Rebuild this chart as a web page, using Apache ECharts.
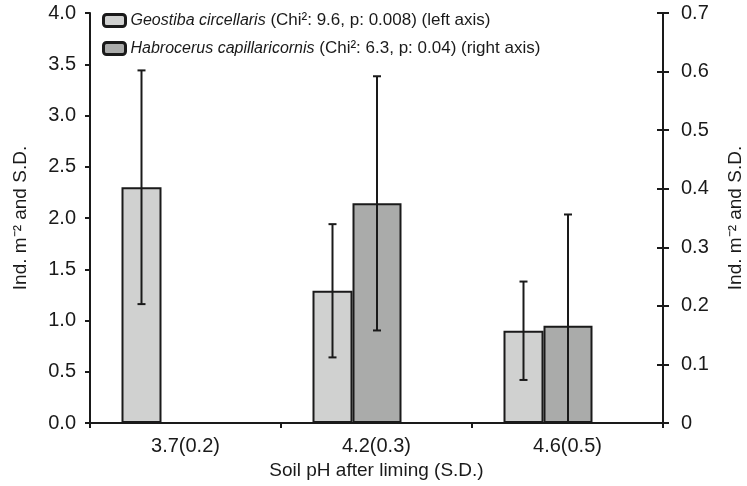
<!DOCTYPE html>
<html>
<head>
<meta charset="utf-8">
<script src="https://cdn.jsdelivr.net/npm/echarts@6/dist/echarts.min.js"></script>
<style>
  html, body { margin: 0; padding: 0; background: #fff; }
  #chart { width: 747px; height: 486px; }
</style>
</head>
<body>
<div id="chart"></div>
<script>
// values
const categories = ['3.7(0.2)', '4.2(0.3)', '4.6(0.5)'];
const seriesNames = ['Geostiba circellaris', 'Habrocerus capillaricornis'];
const legendNotes = ['(Chi²: 9.6, p: 0.008) (left axis)', '(Chi²: 6.3, p: 0.04) (right axis)'];
const geostibaMean = [2.30, 1.29, 0.90];
const geostibaSD = [1.14, 0.65, 0.48];
const habroMean = [null, 0.375, 0.166];
const habroSD = [null, 0.217, 0.19];

const ink = '#1a1a1a';
const font = 'Liberation Sans, Arial, sans-serif';
// bar widths (px): the two species plus an empty slot, as in the original layout
const barW = [40, 49, 39];
const groupW = barW[0] + barW[1] + barW[2];
const offGeo = -groupW / 2 + barW[0] / 2;
const offHab = -groupW / 2 + barW[0] + barW[1] / 2;

function errData(mean, sd) {
  const out = [];
  mean.forEach((m, i) => {
    if (m == null) return;
    out.push([i, Math.max(0, m - sd[i]), m + sd[i]]);
  });
  return out;
}

function errRender(offset) {
  return function (params, api) {
    const lo = api.coord([api.value(0), api.value(1)]);
    const hi = api.coord([api.value(0), api.value(2)]);
    const x = lo[0] + offset;
    const cap = 4;
    const style = { stroke: ink, lineWidth: 2 };
    return {
      type: 'group',
      children: [
        { type: 'line', shape: { x1: x, y1: lo[1], x2: x, y2: hi[1] }, style },
        { type: 'line', shape: { x1: x - cap, y1: hi[1], x2: x + cap, y2: hi[1] }, style },
        { type: 'line', shape: { x1: x - cap, y1: lo[1], x2: x + cap, y2: lo[1] }, style }
      ]
    };
  };
}

const chart = echarts.init(document.getElementById('chart'));

const option = {
  animation: false,
  textStyle: { fontFamily: font, color: ink },
  grid: { left: 90, right: 84, top: 13, bottom: 63, outerBoundsMode: 'none', containLabel: false },
  legend: {
    data: seriesNames,
    orient: 'vertical',
    left: 97,
    top: 7,
    itemWidth: 22,
    itemHeight: 12,
    itemGap: 11,
    itemStyle: { borderColor: ink, borderWidth: 3 },
    formatter: name => '{i|' + name + '} ' + legendNotes[seriesNames.indexOf(name)],
    textStyle: {
      fontFamily: font, fontSize: 17, color: ink,
      rich: { i: { fontStyle: 'italic', fontSize: 16, fontFamily: font, color: ink } }
    }
  },
  xAxis: {
    type: 'category',
    data: categories,
    name: 'Soil pH after liming (S.D.)',
    nameLocation: 'middle',
    nameGap: 36,
    nameTextStyle: { fontSize: 19, color: ink },
    axisLine: { lineStyle: { color: ink, width: 2 } },
    axisTick: { show: true, length: 5, lineStyle: { color: ink, width: 2 } },
    axisLabel: { fontSize: 20, color: ink, margin: 13 }
  },
  yAxis: [
    {
      type: 'value', min: 0, max: 4, interval: 0.5,
      name: 'Ind. m⁻² and S.D.',
      nameLocation: 'middle',
      nameGap: 60,
      nameTextStyle: { fontSize: 19, color: ink },
      splitLine: { show: false },
      axisLine: { show: true, lineStyle: { color: ink, width: 2 } },
      axisTick: { show: true, length: 5, lineStyle: { color: ink, width: 2 } },
      axisLabel: { fontSize: 20, color: ink, margin: 14, formatter: v => v.toFixed(1) }
    },
    {
      type: 'value', min: 0, max: 0.7, interval: 0.1, position: 'right',
      name: 'Ind. m⁻² and S.D.',
      nameLocation: 'middle',
      nameGap: 63,
      nameRotate: 90,
      nameTextStyle: { fontSize: 19, color: ink },
      splitLine: { show: false },
      axisLine: { show: true, lineStyle: { color: ink, width: 2 } },
      axisTick: { show: true, length: 6, lineStyle: { color: ink, width: 2 } },
      axisLabel: { fontSize: 20, color: ink, margin: 18, formatter: v => v === 0 ? '0' : v.toFixed(1) }
    },
    {
      // inner half of the right-axis ticks
      type: 'value', min: 0, max: 0.7, interval: 0.1, position: 'right',
      splitLine: { show: false },
      axisLine: { show: false },
      axisLabel: { show: false },
      axisTick: { show: true, inside: true, length: 6, lineStyle: { color: ink, width: 2 } }
    }
  ],
  series: [
    {
      name: seriesNames[0], type: 'bar', yAxisIndex: 0,
      barWidth: barW[0], barGap: '0%',
      data: geostibaMean,
      itemStyle: { color: '#d0d1d0', borderColor: ink, borderWidth: 2 }
    },
    {
      name: seriesNames[1], type: 'bar', yAxisIndex: 1,
      barWidth: barW[1], barGap: '0%',
      data: habroMean.map(v => v == null ? '-' : v),
      itemStyle: { color: '#aaabaa', borderColor: ink, borderWidth: 2 }
    },
    {
      name: 'spacer', type: 'bar', yAxisIndex: 0,
      barWidth: barW[2], barGap: '0%',
      data: ['-', '-', '-'],
      silent: true
    },
    {
      type: 'custom', yAxisIndex: 0, z: 5,
      renderItem: errRender(offGeo),
      data: errData(geostibaMean, geostibaSD)
    },
    {
      type: 'custom', yAxisIndex: 1, z: 5,
      renderItem: errRender(offHab),
      data: errData(habroMean, habroSD)
    }
  ]
};

chart.setOption(option);
</script>
</body>
</html>
